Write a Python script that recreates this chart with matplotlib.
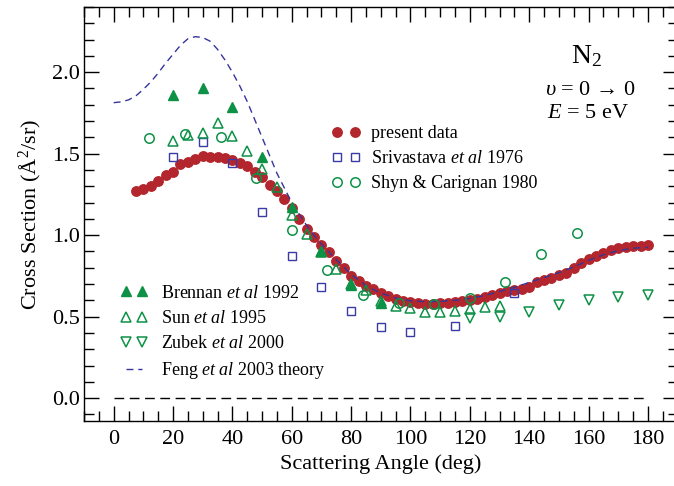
import numpy as np
import matplotlib
matplotlib.use("Agg")
import matplotlib.pyplot as plt
from matplotlib.ticker import MultipleLocator, FormatStrFormatter

plt.rcParams["font.family"] = ["Liberation Serif", "DejaVu Serif"]
plt.rcParams["mathtext.fontset"] = "custom"
plt.rcParams["mathtext.rm"] = "Liberation Serif"
plt.rcParams["mathtext.it"] = "Liberation Serif:italic"

# --- datos ---
present_ang = np.arange(7.5, 180.1, 2.5)
present_val = [1.274, 1.282, 1.302, 1.335, 1.368, 1.39, 1.434, 1.448, 1.466, 1.485,
               1.479, 1.479, 1.473, 1.463, 1.444, 1.426,
               1.387, 1.357, 1.308, 1.27, 1.222, 1.169, 1.098, 1.037, 0.99, 0.94,
               0.895, 0.842, 0.798, 0.752, 0.72, 0.691, 0.668, 0.645, 0.628, 0.61,
               0.597, 0.588,
               0.583, 0.58, 0.579, 0.581, 0.585, 0.59, 0.596, 0.603, 0.611, 0.62,
               0.632, 0.645, 0.655, 0.662, 0.67, 0.685, 0.715, 0.726, 0.737, 0.755,
               0.768, 0.797, 0.828, 0.853, 0.873, 0.893, 0.91, 0.92, 0.93, 0.935,
               0.936, 0.938]

sriv_ang = [20, 30, 40, 50, 60, 70, 80, 90, 100, 115, 135]
sriv_val = [1.482, 1.571, 1.442, 1.145, 0.874, 0.685, 0.536, 0.436, 0.407, 0.444, 0.644]

shyn_ang = [12, 24, 36, 48, 60, 72, 84, 96, 108, 120, 132, 144, 156]
shyn_val = [1.595, 1.621, 1.605, 1.35, 1.033, 0.787, 0.634, 0.583, 0.579, 0.617,
            0.711, 0.883, 1.012]

brennan_ang = [20, 30, 40, 50, 60, 70, 80, 90]
brennan_val = [1.861, 1.906, 1.785, 1.478, 1.172, 0.905, 0.694, 0.585]

sun_ang = [20, 25, 30, 35, 40, 45, 50, 55, 60, 65, 70, 75, 80, 85, 90, 95, 100,
           105, 110, 115, 120, 125, 130]
sun_val = [1.579, 1.615, 1.626, 1.687, 1.609, 1.519, 1.407, 1.298, 1.125, 1.008,
           0.895, 0.794, 0.70, 0.661, 0.597, 0.566, 0.552, 0.531, 0.531, 0.537,
           0.545, 0.558, 0.566]

zubek_ang = [120, 130, 140, 150, 160, 170, 180]
zubek_val = [0.491, 0.501, 0.531, 0.572, 0.603, 0.623, 0.634]

feng_ang = [0, 2.5, 5, 7.5, 10, 12.5, 15, 17.5, 20, 22.5, 25, 27.5, 30, 32.5, 35,
            37.5, 40, 42.5, 45, 47.5, 50, 52.5, 55, 57.5, 60, 62.5, 65, 67.5, 70,
            75, 80, 85, 90, 95, 100, 105, 110, 115, 120, 125, 130, 135, 140, 145,
            150, 155, 160, 165, 170, 175, 180]
feng_val = [1.813, 1.818, 1.83, 1.855, 1.895, 1.94, 1.995, 2.055, 2.11, 2.165,
            2.205, 2.218, 2.213, 2.19, 2.14, 2.075, 2.0, 1.915, 1.82, 1.71, 1.6,
            1.49, 1.38, 1.29, 1.2, 1.13, 1.06, 1.0, 0.945, 0.85, 0.76, 0.69, 0.645,
            0.615, 0.598, 0.592, 0.594, 0.6, 0.612, 0.63, 0.655, 0.68, 0.71, 0.74,
            0.77, 0.805, 0.845, 0.88, 0.905, 0.92, 0.925]

RED = "#b3262d"
GREEN = "#0d9147"
BLUE = "#3a3aa6"
NAVY = "#35359c"

fig = plt.figure(figsize=(6.74, 4.86), dpi=100)
ax = fig.add_axes([84/674, (486-421)/486, (677.6-84)/674, (421-7)/486])

# linea de cero
ax.plot([0, 180], [0, 0], color="black", lw=1.0, ls=(0, (7, 4)), zorder=1)

h_pres, = ax.plot(present_ang, present_val, "o", color=RED, ms=6.8, mec=RED,
                  zorder=2, label="present data")
h_feng, = ax.plot(feng_ang, feng_val, color=NAVY, lw=1.0, ls=(0, (5, 3.5)),
                  zorder=3, label=r"Feng $\mathit{et\ al}$ 2003 theory")
h_sriv, = ax.plot(sriv_ang, sriv_val, "s", mfc="none", mec=BLUE, mew=1.0, ms=5.2,
                  zorder=4, label=r"Srivastava $\mathit{et\ al}$ 1976")
h_shyn, = ax.plot(shyn_ang, shyn_val, "o", mfc="none", mec=GREEN, mew=1.1, ms=6.8,
                  zorder=4, label="Shyn & Carignan 1980")
h_bren, = ax.plot(brennan_ang, brennan_val, "^", color=GREEN, ms=6.5,
                  zorder=4, label=r"Brennan $\mathit{et\ al}$ 1992")
h_sun, = ax.plot(sun_ang, sun_val, "^", mfc="none", mec=GREEN, mew=1.1, ms=6.5,
                 zorder=5, label=r"Sun $\mathit{et\ al}$ 1995")
h_zub, = ax.plot(zubek_ang, zubek_val, "v", mfc="none", mec=GREEN, mew=1.1, ms=6.5,
                 zorder=4, label=r"Zubek $\mathit{et\ al}$ 2000")

ax.set_xlim(-10, 190)
ax.set_ylim(-0.14, 2.4)
ax.xaxis.set_major_locator(MultipleLocator(20))
ax.xaxis.set_minor_locator(MultipleLocator(5))
ax.yaxis.set_major_locator(MultipleLocator(0.5))
ax.yaxis.set_minor_locator(MultipleLocator(0.1))
ax.yaxis.set_major_formatter(FormatStrFormatter("%.1f"))
ax.tick_params(which="both", direction="in", top=True, right=True, width=1.0)
ax.tick_params(which="major", length=11)
ax.tick_params(which="minor", length=7)
ax.tick_params(axis="x", which="major", labelsize=16, pad=6.5)
ax.tick_params(axis="y", which="major", labelsize=16, pad=3)
for sp in ax.spines.values():
    sp.set_linewidth(1.0)

ax.set_xlabel("Scattering Angle (deg)", fontsize=16, labelpad=4)
ax.set_ylabel(r"Cross Section (Å$^2$/sr)", fontsize=16, labelpad=6)

ax.text(159.4, 2.055, r"N$_2$", fontsize=20, ha="center", va="baseline")
ax.text(160.5, 1.861, r"$\upsilon$ = 0 → 0", fontsize=16,
        ha="center", va="baseline")
ax.text(159.9, 1.718, r"$E$ = 5 eV", fontsize=16, ha="center", va="baseline")

leg1 = ax.legend(handles=[h_pres, h_sriv, h_shyn], loc="center left",
                 bbox_to_anchor=(73.3, 1.47), bbox_transform=ax.transData,
                 frameon=False, numpoints=2, handlelength=1.6, handletextpad=0.6,
                 labelspacing=0.45, borderpad=0, borderaxespad=0, fontsize=13)
ax.add_artist(leg1)
ax.legend(handles=[h_bren, h_sun, h_zub, h_feng], loc="center left",
          bbox_to_anchor=(2.3, 0.40), bbox_transform=ax.transData,
          frameon=False, numpoints=2, handlelength=1.47, handletextpad=0.78,
          labelspacing=0.45, borderpad=0, borderaxespad=0, fontsize=13)

fig.savefig("out.png", dpi=100)
